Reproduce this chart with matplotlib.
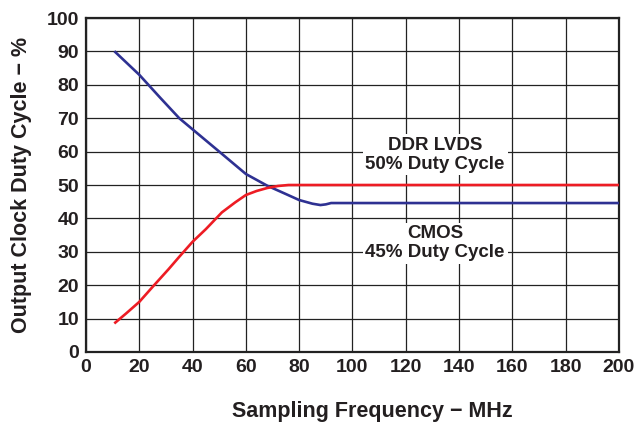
import matplotlib
matplotlib.use("Agg")
import matplotlib.pyplot as plt

plt.rcParams["font.family"] = ["Liberation Sans", "DejaVu Sans"]
plt.rcParams["font.weight"] = "bold"

# CMOS output clock duty cycle vs sampling frequency
cmos_f = [11, 20, 28, 35, 41, 50, 60, 68, 75, 80, 85, 88, 90, 92, 100, 200]
cmos_dc = [89.8, 83, 76, 70, 66, 60, 53.3, 49.8, 47.3, 45.5, 44.4, 44.0, 44.2, 44.6, 44.6, 44.6]

# DDR LVDS output clock duty cycle
lvds_f = [11, 15, 20, 25, 31, 35, 40, 45, 51, 56, 60, 64, 68, 72, 76, 80, 200]
lvds_dc = [8.8, 11.5, 15, 19.5, 24.8, 28.5, 33, 36.8, 41.8, 44.8, 47, 48.2, 49.1, 49.7, 50, 50, 50]

x_ticks = list(range(0, 201, 20))
y_ticks = list(range(0, 101, 10))

ink = "#231F20"
fig = plt.figure(figsize=(6.38, 4.22), dpi=100)
ax = fig.add_axes([0.1348, 0.1659, 0.8352, 0.7914])

ax.plot(cmos_f, cmos_dc, color="#2E3192", lw=1.9, zorder=3)
ax.plot(lvds_f, lvds_dc, color="#ED1C24", lw=1.9, zorder=3)

ax.set_xlim(0, 200)
ax.set_ylim(0, 100)
ax.set_xticks(x_ticks)
ax.set_yticks(y_ticks)
ax.tick_params(length=0, labelsize=14, pad=5, labelcolor=ink)
for lbl in ax.get_xticklabels() + ax.get_yticklabels():
    lbl.set_fontweight("bold")
ax.grid(True, color="#222222", lw=0.9)
ax.set_axisbelow(True)
for s in ax.spines.values():
    s.set_linewidth(1.6)
    s.set_color("#222222")

box = dict(facecolor="white", edgecolor="none", pad=2)
ax.text(131, 59.0, "DDR LVDS\n50% Duty Cycle", ha="center", va="center",
        fontsize=13.5, fontweight="bold", color=ink, bbox=box,
        linespacing=1.1, zorder=4)
ax.text(131, 32.6, "CMOS\n45% Duty Cycle", ha="center", va="center",
        fontsize=13.5, fontweight="bold", color=ink, bbox=box,
        linespacing=1.1, zorder=4)

fig.text(372 / 638, 1 - 411 / 422, "Sampling Frequency \u2212 MHz",
         ha="center", va="center", fontsize=15.5, fontweight="bold", color=ink)
fig.text(22 / 638, 1 - 185 / 422, "Output Clock Duty Cycle \u2212 %",
         ha="center", va="center", rotation=90, fontsize=15.5,
         fontweight="bold", color=ink)

fig.savefig("out.png", dpi=100)
